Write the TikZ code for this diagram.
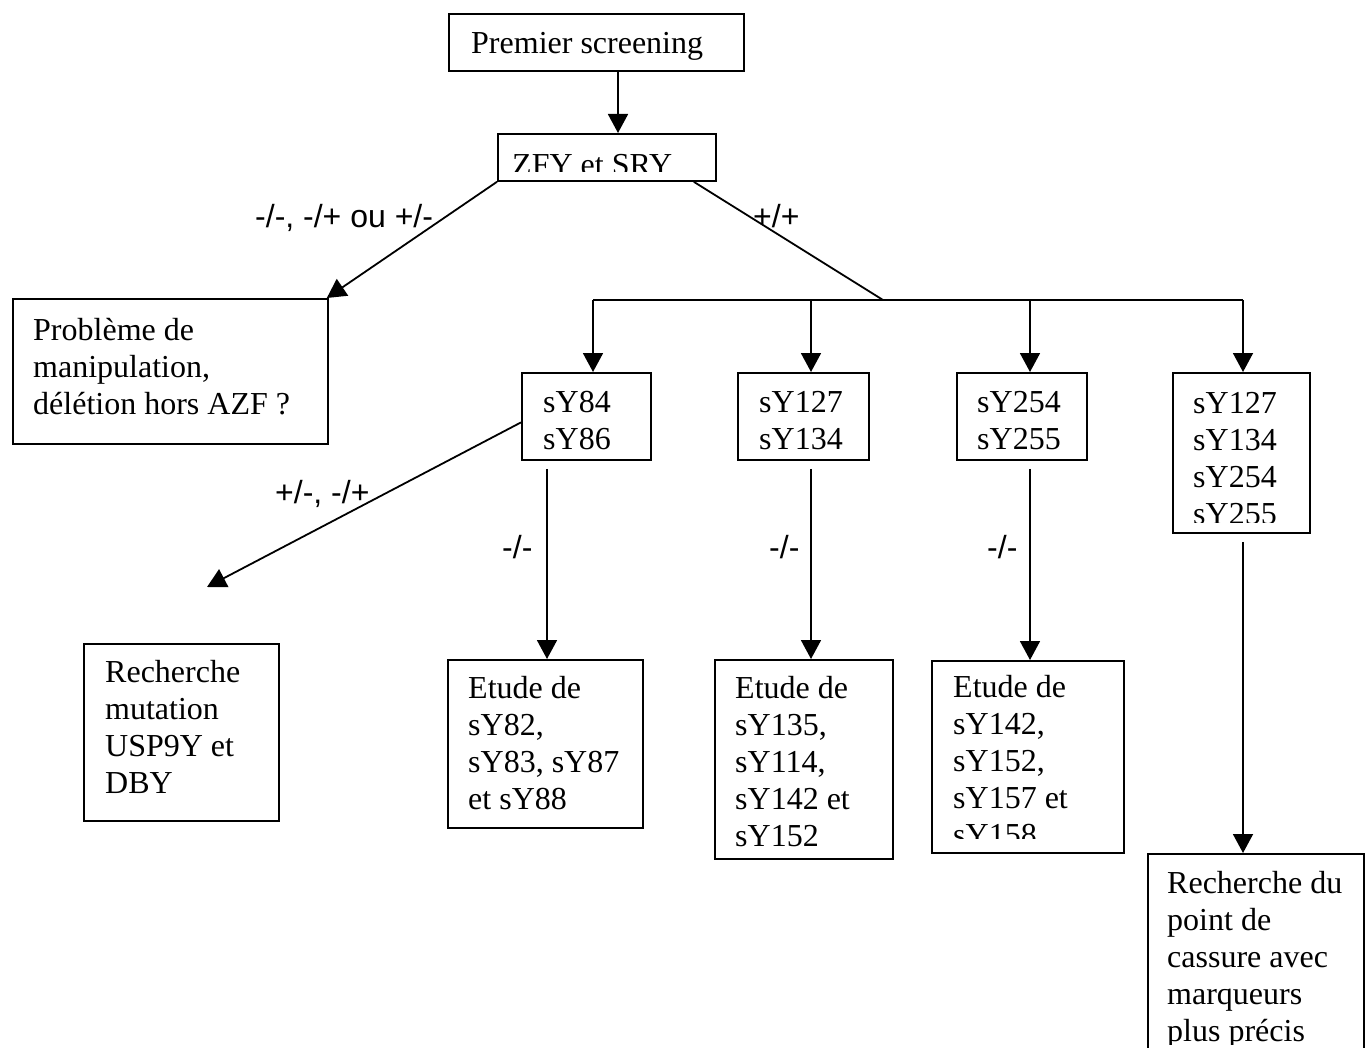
\documentclass[tikz,border=0pt]{standalone}
\usepackage{fontspec}
\setmainfont{Liberation Serif}
\newfontfamily\labfont{Liberation Sans}
\usetikzlibrary{arrows.meta}
\tikzset{
  box/.style={draw, line width=1.8pt, inner sep=0pt, anchor=north west},
  txt/.style={inner sep=0pt, anchor=north west, align=left, font=\fontsize{32}{37}\selectfont},
  lab/.style={inner sep=0pt, anchor=base west, font=\labfont\fontsize{32}{37}\selectfont},
  conn/.style={line width=1.8pt},
  arr/.style={conn, -{Triangle[length=19pt,width=20pt]}},
}
\begin{document}
\begin{tikzpicture}[x=1pt,y=-1pt]
\fill[white] (0,0) rectangle (1367,1048);
\useasboundingbox (0,0) rectangle (1367,1048);

% boxes
\node[box, minimum width=295pt, minimum height=57pt] (prem) at (448,13) {};
\node[box, minimum width=218pt, minimum height=47pt] (zfy) at (497,133) {};
\node[box, minimum width=315pt, minimum height=145pt] (prob) at (12,298) {};
\node[box, minimum width=129pt, minimum height=87pt] (s84) at (521,372) {};
\node[box, minimum width=131pt, minimum height=87pt] (s127) at (737,372) {};
\node[box, minimum width=130pt, minimum height=87pt] (s254) at (956,372) {};
\node[box, minimum width=137pt, minimum height=160pt] (s4) at (1172,372) {};
\node[box, minimum width=195pt, minimum height=177pt] (rech) at (83,643) {};
\node[box, minimum width=195pt, minimum height=168pt] (et1) at (447,659) {};
\node[box, minimum width=178pt, minimum height=199pt] (et2) at (714,659) {};
\node[box, minimum width=192pt, minimum height=192pt] (et3) at (931,660) {};
\node[box, minimum width=216pt, minimum height=230pt] (fin) at (1147,853) {};

% texts
\node[txt] (premt) at (471,27.1) {\strut Premier screening};
\begin{scope}
  \clip (497,133) rectangle (715,172);
  \node[txt] (zfyt) at (512,149.1) {\strut ZFY et SRY};
\end{scope}
\node[txt] (probt) at (33,314.1) {\strut Problème de\\manipulation,\\délétion hors AZF ?};
\node[txt] (s84t) at (543,386.1) {\strut sY84\\sY86};
\node[txt] (s127t) at (759,386.1) {\strut sY127\\sY134};
\node[txt] (s254t) at (977,386.1) {\strut sY254\\sY255};
\begin{scope}
  \clip (1172,372) rectangle (1309,522);
  \node[txt] (s4t) at (1193,387.1) {\strut sY127\\sY134\\sY254\\sY255};
\end{scope}
\node[txt] (recht) at (105,656.1) {\strut Recherche\\mutation\\USP9Y et\\DBY};
\node[txt] (et1t) at (468,672.1) {\strut Etude de\\sY82,\\sY83, sY87\\et sY88};
\node[txt] (et2t) at (735,672.1) {\strut Etude de\\sY135,\\sY114,\\sY142 et\\sY152};
\begin{scope}
  \clip (931,660) rectangle (1123,838);
  \node[txt] (et3t) at (953,671.1) {\strut Etude de\\sY142,\\sY152,\\sY157 et\\sY158};
\end{scope}
\begin{scope}
  \clip (1147,853) rectangle (1363,1044);
  \node[txt] (fint) at (1167,867.1) {\strut Recherche du\\point de\\cassure avec\\marqueurs\\plus précis};
\end{scope}

% labels
\node[lab] (l1) at (255,228) {-/-, -/+ ou +/-};
\node[lab] (l2) at (753,228) {+/+};
\node[lab] (l3) at (275,503) {+/-, -/+};
\node[lab] (l4) at (502,558) {-/-};
\node[lab] (l5) at (769,558) {-/-};
\node[lab] (l6) at (987,558) {-/-};

% connector coordinates
\coordinate (j) at (883,300);
\coordinate (d1) at (593,300);
\coordinate (d2) at (811,300);
\coordinate (d3) at (1030,300);
\coordinate (d4) at (1243,300);
\coordinate (rt) at (207,587);

% connectors
\draw[arr] ([xshift=170pt]prem.south west) -- ([xshift=121pt]zfy.north west);
\draw[arr] (zfy.south west) -- ([xshift=-2pt]prob.north east);
\draw[conn] ([xshift=-23pt]zfy.south east) -- (j);
\draw[conn] (d1) -- (d4);
\draw[arr] (d1) -- (d1 |- s84.north);
\draw[arr] (d2) -- (d2 |- s127.north);
\draw[arr] (d3) -- (d3 |- s254.north);
\draw[arr] (d4) -- (d4 |- s4.north);
\draw[arr] ([yshift=-6pt]s84.west) -- (rt);
\draw[arr] ([xshift=26pt,yshift=-8pt]s84.south west) -- ([xshift=100pt]et1.north west);
\draw[arr] ([xshift=74pt,yshift=-8pt]s127.south west) -- ([xshift=97pt]et2.north west);
\draw[arr] ([xshift=74pt,yshift=-8pt]s254.south west) -- ([xshift=99pt]et3.north west);
\draw[arr] ([xshift=71pt,yshift=-8pt]s4.south west) -- ([xshift=96pt]fin.north west);
\end{tikzpicture}
\end{document}
